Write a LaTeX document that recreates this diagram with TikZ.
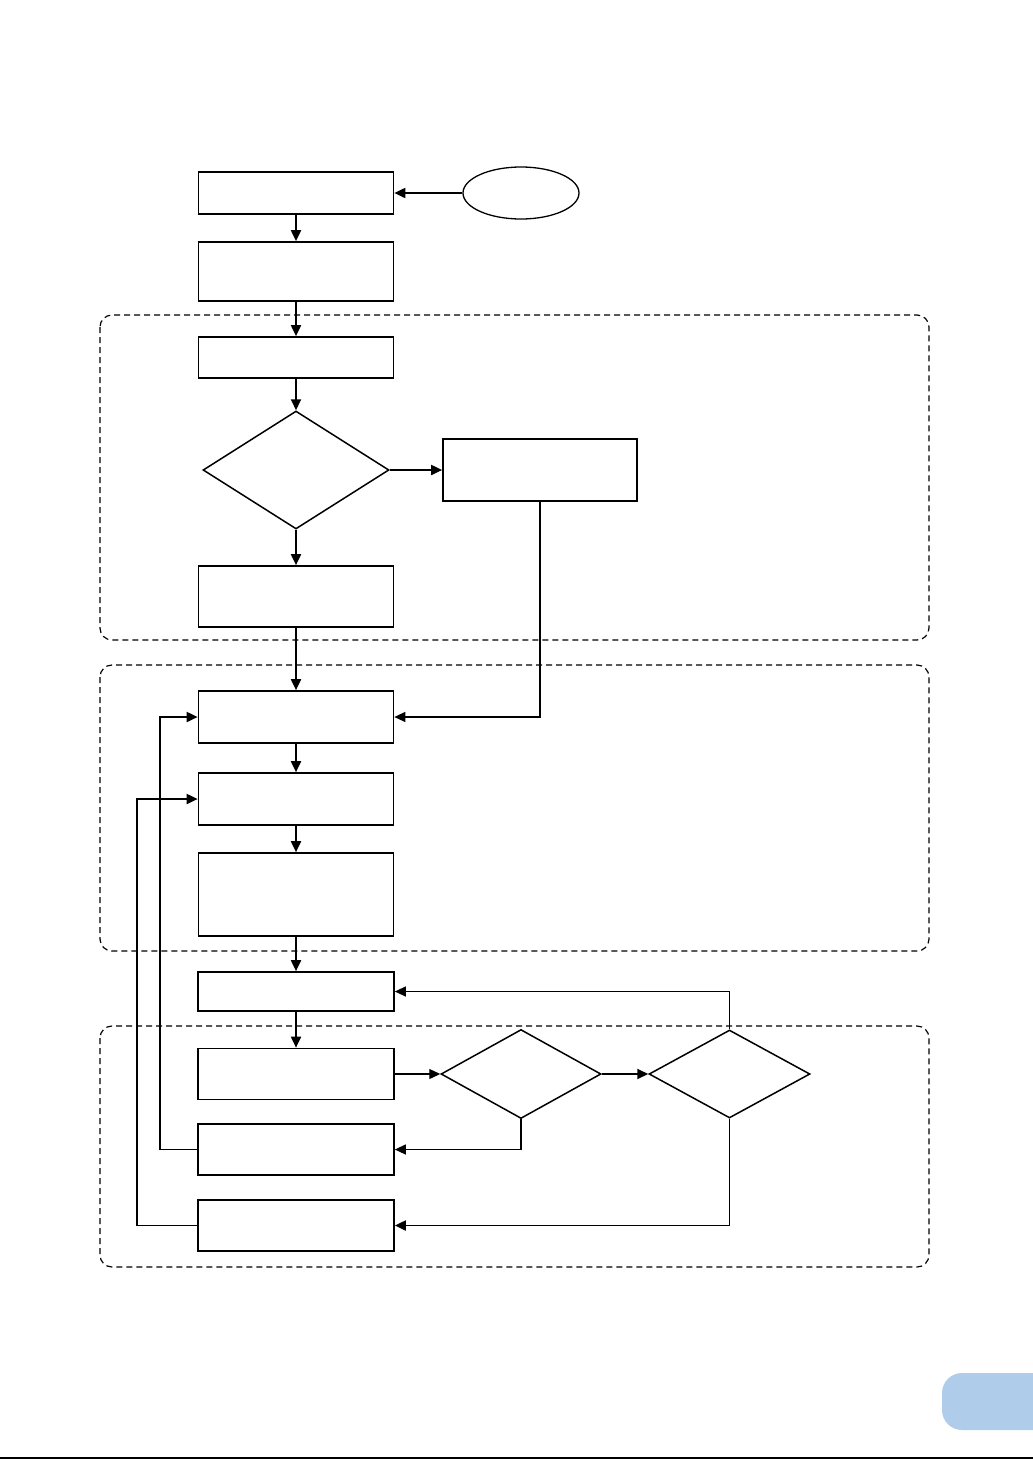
\documentclass[tikz,border=0pt]{standalone}
\usetikzlibrary{shapes.geometric,arrows.meta}
\begin{document}
\begin{tikzpicture}[x=1pt,y=-1pt,
  box/.style={draw,line width=1.7pt,rectangle,inner sep=0pt},
  dia/.style={draw,line width=1.5pt,diamond,inner sep=0pt},
  conn/.style={line width=1.9pt,-{Triangle[length=11pt,width=10pt]}},
  thinconn/.style={line width=1.3pt,-{Triangle[length=11pt,width=10pt]}},
  region/.style={draw,line width=1.2pt,dash pattern=on 6pt off 4pt,rounded corners=12pt}]
\useasboundingbox (0,0) rectangle (1033,1459);
% regions
\draw[region] (100,315) rectangle (929,640);
\draw[region] (100,665) rectangle (929,951);
\draw[region] (100,1026) rectangle (929,1267);
% nodes
\node[box,minimum width=195pt,minimum height=42pt] (A) at (296,193) {};
\node[draw,line width=1.3pt,ellipse,minimum width=116pt,minimum height=52pt,inner sep=0pt] (S) at (521,193) {};
\node[box,minimum width=195pt,minimum height=59pt] (B) at (296,271.5) {};
\node[box,minimum width=195pt,minimum height=41pt] (C) at (296,357.5) {};
\node[dia,minimum width=186pt,minimum height=118pt] (D1) at (296,470) {};
\node[box,minimum width=194pt,minimum height=62pt] (E) at (540,470) {};
\node[box,minimum width=195pt,minimum height=61pt] (F) at (296,596.5) {};
\node[box,minimum width=195pt,minimum height=52pt] (G) at (296,717) {};
\node[box,minimum width=195pt,minimum height=52pt] (H) at (296,799) {};
\node[box,minimum width=195pt,minimum height=83pt] (I) at (296,894.5) {};
\node[box,minimum width=196pt,minimum height=39pt] (J) at (296,991.5) {};
\node[box,minimum width=196pt,minimum height=51pt] (K) at (296,1074) {};
\node[box,minimum width=196pt,minimum height=51pt] (L) at (296,1149.5) {};
\node[box,minimum width=196pt,minimum height=51pt] (M) at (296,1225.5) {};
\node[dia,minimum width=160pt,minimum height=89pt] (D2) at (521,1074) {};
\node[dia,minimum width=161pt,minimum height=88pt] (D3) at (729.5,1074) {};
% connectors
\draw[conn] (S.west) -- (A.east);
\draw[conn] (A.south) -- (B.north);
\draw[conn] (B.south) -- (C.north);
\draw[conn] (C.south) -- (D1.north);
\draw[conn] (D1.east) -- (E.west);
\draw[conn] (D1.south) -- (F.north);
\draw[conn] (F.south) -- (G.north);
\draw[thinconn] (E.south) |- (G.east);
\draw[conn] (G.south) -- (H.north);
\draw[conn] (H.south) -- (I.north);
\draw[conn] (I.south) -- (J.north);
\draw[conn] (J.south) -- (K.north);
\draw[thinconn] (K.east) -- (D2.west);
\draw[conn] (D2.east) -- (D3.west);
\draw[thinconn] (D2.south) |- (L.east);
\draw[conn] (D3.south) |- (M.east);
\draw[thinconn] (D3.north) |- (J.east);
\coordinate (l1) at (160,1149.5);
\coordinate (m1) at (137,1225.5);
\draw[conn] (L.west) -- (l1) |- (G.west);
\draw[conn] (M.west) -- (m1) |- (H.west);
% page decoration
\fill[fill={rgb,255:red,175;green,205;blue,234},rounded corners=20pt] (942,1373) rectangle (1060,1430);
\draw[line width=2pt] (0,1457.5) -- (1033,1457.5);
\end{tikzpicture}
\end{document}
